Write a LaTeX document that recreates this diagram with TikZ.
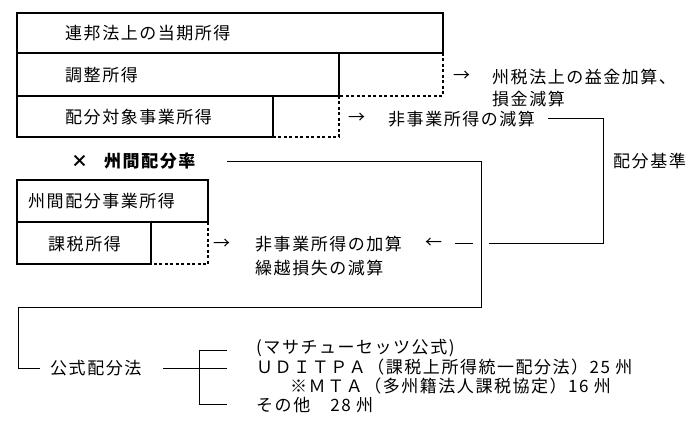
\documentclass[tikz,border=0pt]{standalone}
\usepackage{fontspec}
\newfontfamily\jp[LetterSpace=9]{Noto Sans CJK JP}
\begin{document}
\begin{tikzpicture}[x=1pt,y=-1pt,
  box/.style={draw, line width=1.4pt, inner sep=0pt, outer sep=0pt, anchor=north west},
  lbl/.style={font=\jp\fontsize{17}{19}\selectfont, anchor=west, inner sep=0pt},
  blbl/.style={font=\jp\bfseries\fontsize{17}{19}\selectfont, anchor=west, inner sep=0pt},
  dsh/.style={line width=1.3pt, dash pattern=on 3pt off 2.5pt},
  conn/.style={line width=0.9pt}]
\useasboundingbox (0,0) rectangle (700,430);
\fill[white] (0,0) rectangle (700,430);
% upper boxes
\node[box, minimum width=426pt, minimum height=40pt] (b1) at (17,13) {};
\node[box, minimum width=322pt, minimum height=43pt] (b2) at (17,53) {};
\node[box, minimum width=256pt, minimum height=41pt] (b3) at (17,96) {};
\draw[dsh] (b1.south east) -- (b1.south east |- b2.south) -- (b2.south east);
\draw[dsh] (b2.south east) -- (b2.south east |- b3.south) -- (b3.south east);
\node[lbl] (t1) at (65,33) {連邦法上の当期所得};
\node[lbl] (t2) at (65,75) {調整所得};
\node[lbl] (t3) at (65,117) {配分対象事業所得};
\node[lbl] (a1) at (453,76) {→};
\node[lbl] (t4) at (492,77) {州税法上の益金加算、};
\node[lbl] (t5) at (492,99) {損金減算};
\node[lbl] (a2) at (348,118) {→};
\node[lbl] (t6) at (388,119) {非事業所得の減算};
\node[lbl] (t7) at (613,161) {配分基準};
% allocation basis connector
\coordinate (k1) at (548,118);
\coordinate (k2) at (603,118);
\coordinate (k3) at (603,243);
\coordinate (k4) at (489,243);
\coordinate (k5) at (473,243);
\coordinate (k6) at (455,243);
\draw[conn] (k1) -- (k2) -- (k3) -- (k4);
\draw[conn] (k5) -- (k6);
\node[lbl] (a4) at (425,243) {←};
% apportionment rate
\node[blbl] (x1) at (71,161) {×};
\node[blbl] (t8) at (104,161) {州間配分率};
\coordinate (r1) at (227,161);
\coordinate (r2) at (481,161);
\coordinate (r3) at (481,307);
\coordinate (r4) at (18,307);
\coordinate (r5) at (18,368);
\node[lbl] (t9) at (50,368) {公式配分法};
\draw[conn] (r1) -- (r2) -- (r3) -- (r4) -- (r5) -- (t9.west -| 40,0);
% lower boxes
\node[box, minimum width=191pt, minimum height=42pt] (b4) at (17,180) {};
\node[box, minimum width=134pt, minimum height=42pt] (b5) at (17,222) {};
\draw[dsh] (b4.south east) -- (b4.south east |- b5.south) -- (b5.south east);
\node[lbl] (t10) at (28,201) {州間配分事業所得};
\node[lbl] (t11) at (48,244) {課税所得};
\node[lbl] (a3) at (213,244) {→};
\node[lbl] (t12) at (255,244) {非事業所得の加算};
\node[lbl] (t13) at (255,268) {繰越損失の減算};
% bracket
\coordinate (q1) at (163,368);
\coordinate (q2) at (227,368);
\coordinate (q3) at (199,350);
\coordinate (q4) at (199,404);
\coordinate (q5) at (227,350);
\coordinate (q6) at (227,404);
\draw[conn] (q1) -- (q2);
\draw[conn] (q5) -- (q3) -- (q4) -- (q6);
\node[lbl] (m1) at (256,348) {(マサチューセッツ公式)};
\node[lbl] (m2) at (256,367) {ＵＤＩＴＰＡ（課税上所得統一配分法）25 州};
\node[lbl] (m3) at (290,386) {※ＭＴＡ（多州籍法人課税協定）16 州};
\node[lbl] (m4) at (256,405) {その他　28 州};
\end{tikzpicture}
\end{document}
